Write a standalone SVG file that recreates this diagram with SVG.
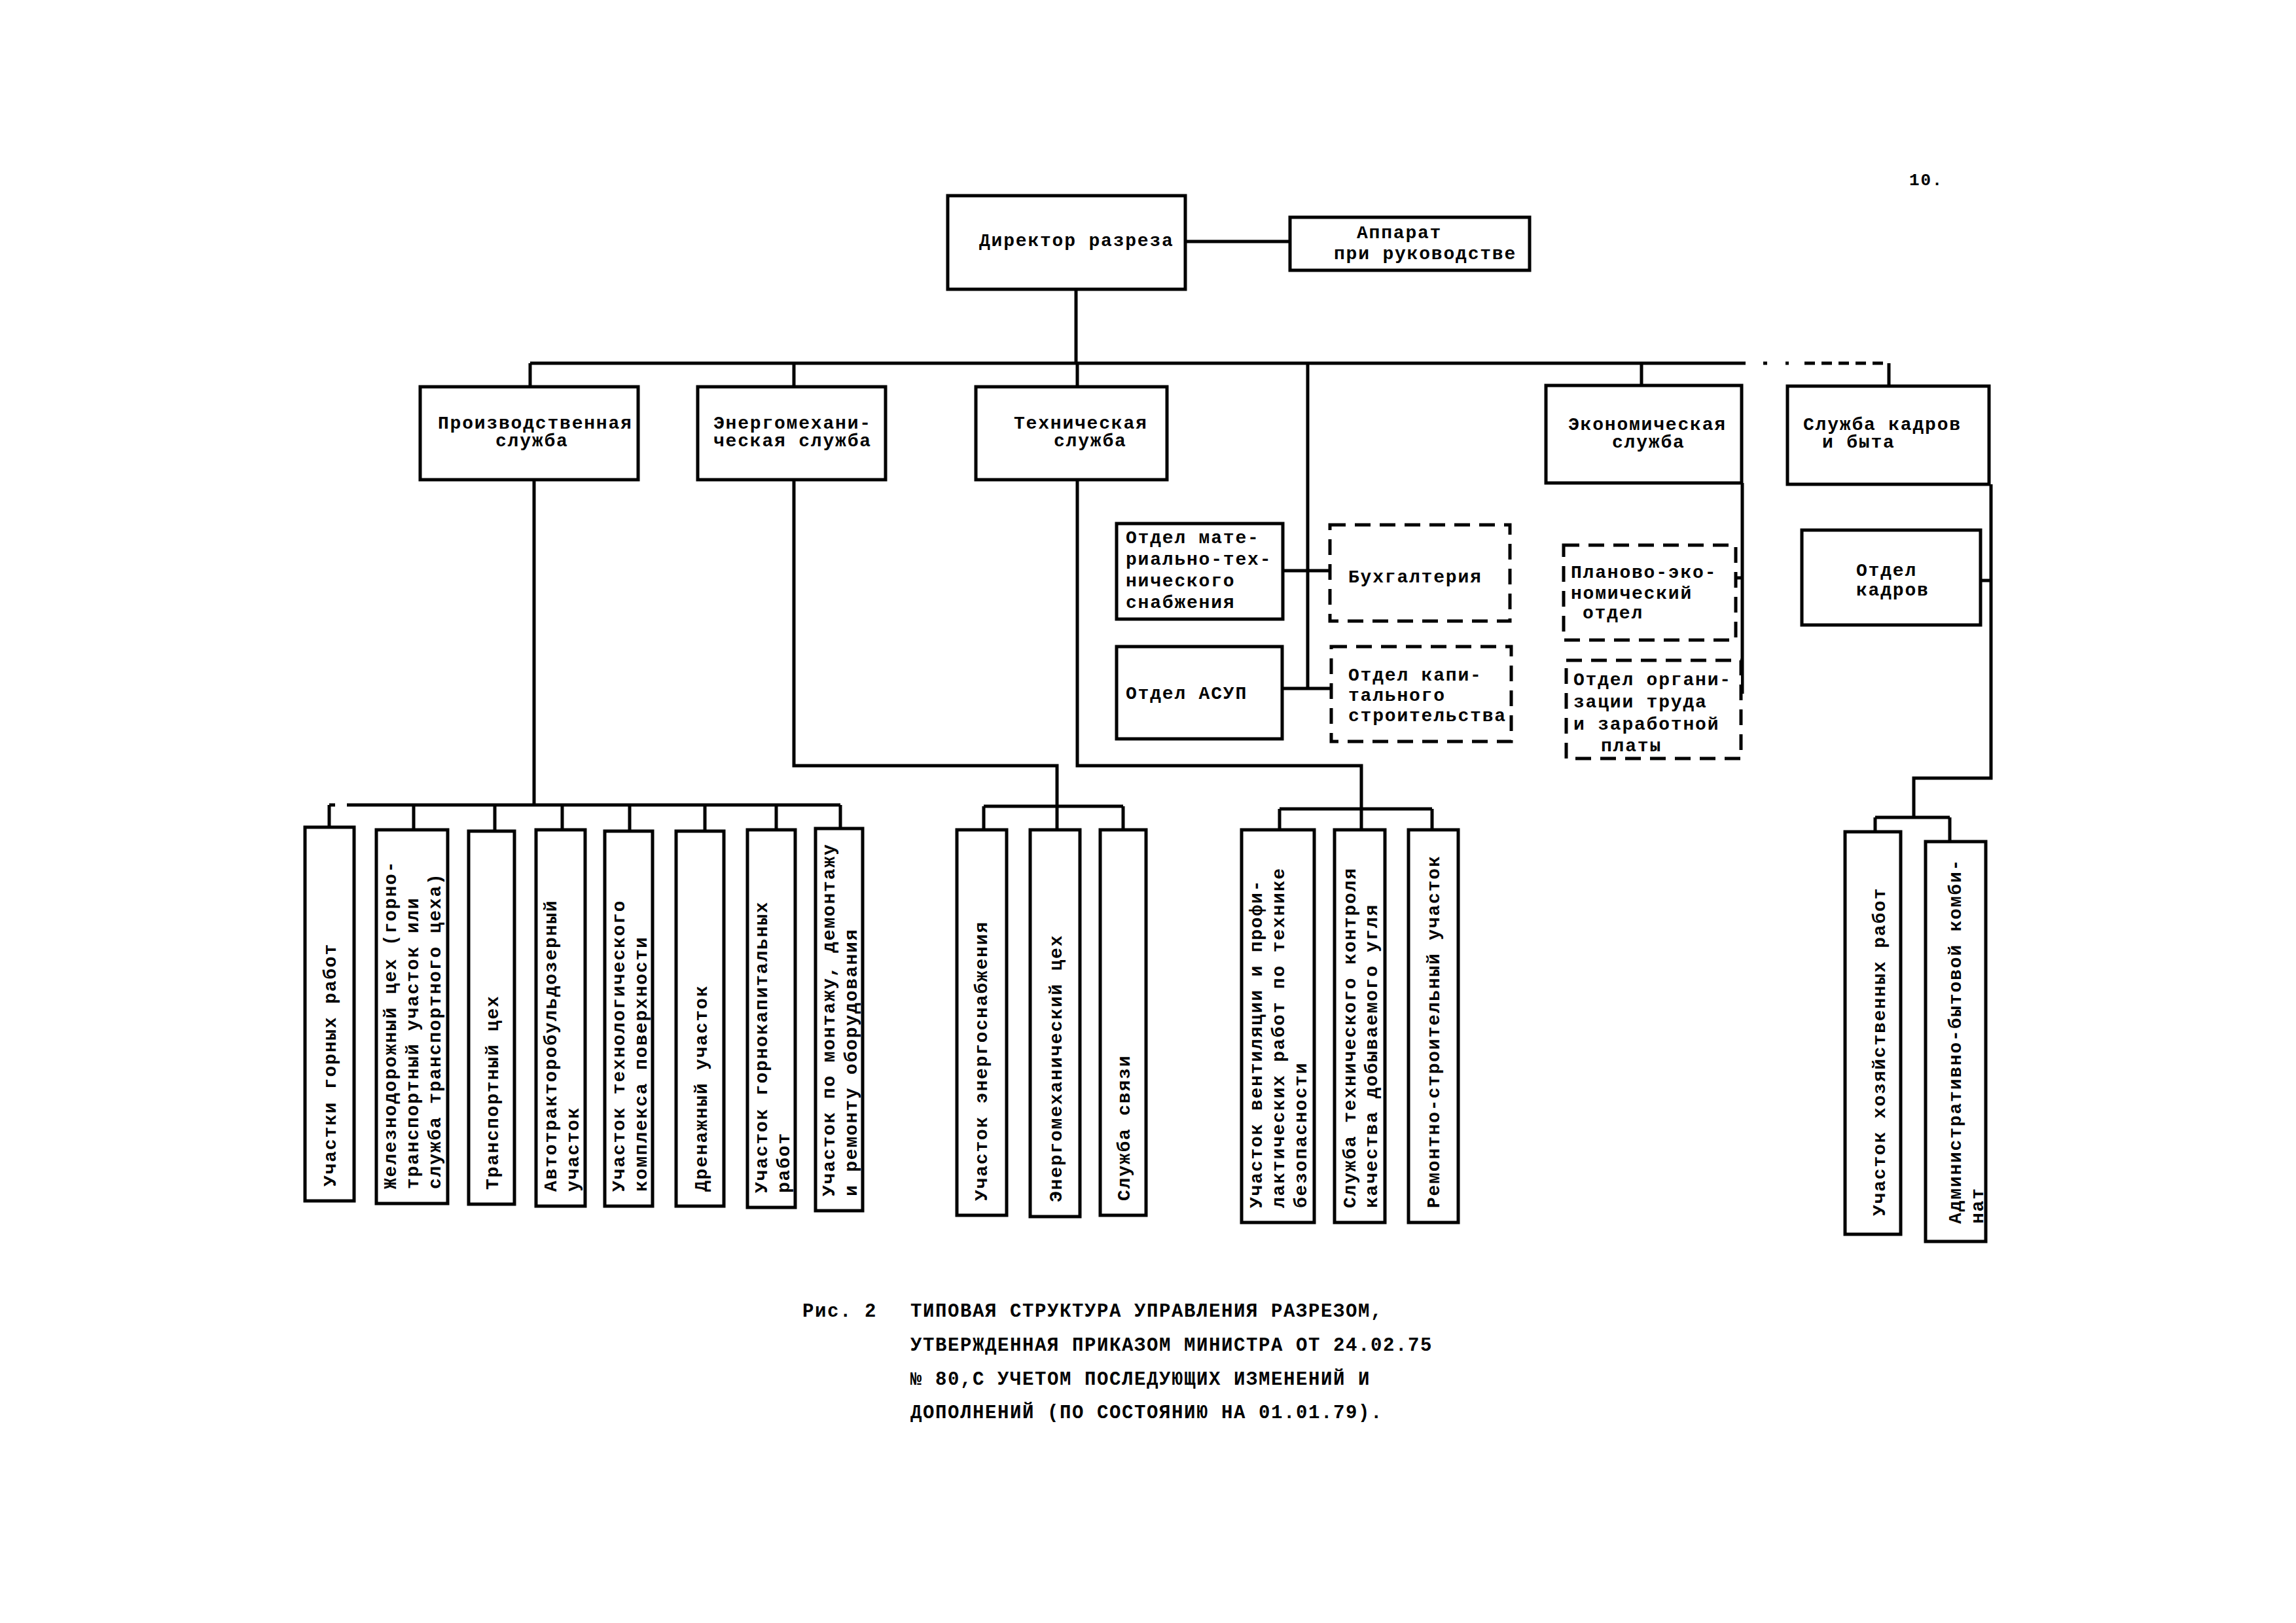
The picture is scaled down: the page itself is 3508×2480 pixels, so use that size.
<svg xmlns="http://www.w3.org/2000/svg" width="3508" height="2480" viewBox="0 0 3508 2480">
<style>
.box{fill:#fff;stroke:#000;stroke-width:5}
.dash{stroke-dasharray:24 14}
.c{fill:none;stroke:#000;stroke-width:5}
.t{font-family:"Liberation Mono","DejaVu Sans Mono",monospace;font-weight:bold;font-size:28px;letter-spacing:1.8px;fill:#000}
.cap{font-family:"Liberation Mono","DejaVu Sans Mono",monospace;font-weight:bold;font-size:29px;letter-spacing:1.6px;fill:#000}
</style>
<rect x="0" y="0" width="3508" height="2480" fill="#fff"/>
<text class="t" x="2917" y="283" style="font-size:26px">10.</text>

<g id="connectors">
<path class="c" d="M1811 369H1971"/>
<path class="c" d="M1644 442V555"/>
<path class="c" d="M810 555H2667"/>
<path class="c" d="M2694 555H2700M2728 555H2733M2757 555H2886" style="stroke-dasharray:16 10"/>
<path class="c" d="M810 555V591M1213 555V591M1646 555V591M2508 555V589M2886 555V590"/>
<path class="c" d="M1998 555V1052M1960 872H2032M1959 1052H2034"/>
<path class="c" d="M2662 738V1060M2652 883H2662M2660 1058H2662"/>
<path class="c" d="M3042 740V1189H2924V1249M2865 1249H2979M2865 1249V1271M2979 1249V1286M3026 887H3042"/>
<path class="c" d="M816 733V1230M503 1230H512M530 1230H1284"/>
<path class="c" d="M503 1230V1264M632 1230V1268M756 1230V1270M859 1230V1268M962 1230V1270M1077 1230V1270M1186 1230V1268M1284 1230V1266"/>
<path class="c" d="M1213 733V1170H1615V1268M1503 1232H1716M1503 1232V1268M1716 1232V1268"/>
<path class="c" d="M1646 733V1170H2080V1268M1955 1236H2188M1955 1236V1268M2188 1236V1268"/>
</g>

<g id="director">
<rect class="box" x="1448" y="299" width="363" height="143"/>
<text class="t" x="1496" y="376">Директор разреза</text>
</g>
<g id="apparat">
<rect class="box" x="1971" y="332" width="366" height="81"/>
<text class="t" x="2073" y="364">Аппарат</text>
<text class="t" x="2038" y="396">при руководстве</text>
</g>

<g id="prod">
<rect class="box" x="642" y="591" width="333" height="142"/>
<text class="t" x="669" y="655">Производственная</text>
<text class="t" x="757" y="682">служба</text>
</g>
<g id="energo">
<rect class="box" x="1066" y="591" width="287" height="142"/>
<text class="t" x="1090" y="655">Энергомехани-</text>
<text class="t" x="1090" y="682">ческая служба</text>
</g>
<g id="tech">
<rect class="box" x="1491" y="591" width="292" height="142"/>
<text class="t" x="1549" y="655">Техническая</text>
<text class="t" x="1610" y="682">служба</text>
</g>
<g id="econ">
<rect class="box" x="2362" y="589" width="299" height="149"/>
<text class="t" x="2396" y="657">Экономическая</text>
<text class="t" x="2463" y="684">служба</text>
</g>
<g id="kadry">
<rect class="box" x="2731" y="590" width="308" height="150"/>
<text class="t" x="2755" y="657">Служба кадров</text>
<text class="t" x="2784" y="684">и быта</text>
</g>

<g id="mts">
<rect class="box" x="1706" y="800" width="254" height="146"/>
<text class="t" x="1720" y="830">Отдел мате-</text>
<text class="t" x="1720" y="863">риально-тех-</text>
<text class="t" x="1720" y="896">нического</text>
<text class="t" x="1720" y="929">снабжения</text>
</g>
<g id="asup">
<rect class="box" x="1706" y="988" width="253" height="141"/>
<text class="t" x="1720" y="1068">Отдел АСУП</text>
</g>
<g id="buh">
<rect class="box dash" x="2032" y="802" width="275" height="147"/>
<text class="t" x="2060" y="890">Бухгалтерия</text>
</g>
<g id="kap">
<rect class="box dash" x="2034" y="988" width="275" height="145"/>
<text class="t" x="2060" y="1040">Отдел капи-</text>
<text class="t" x="2060" y="1071">тального</text>
<text class="t" x="2060" y="1102">строительства</text>
</g>
<g id="plan">
<rect class="box dash" x="2389" y="833" width="263" height="145"/>
<text class="t" x="2400" y="883">Планово-эко-</text>
<text class="t" x="2400" y="915">номический</text>
<text class="t" x="2418" y="945">отдел</text>
</g>
<g id="org">
<rect class="box dash" x="2393" y="1009" width="267" height="150"/>
<text class="t" x="2404" y="1047">Отдел органи-</text>
<text class="t" x="2404" y="1081">зации труда</text>
<text class="t" x="2404" y="1115">и заработной</text>
<text class="t" x="2446" y="1148">платы</text>
</g>
<g id="otdel-kadrov">
<rect class="box" x="2753" y="810" width="273" height="145"/>
<text class="t" x="2836" y="880">Отдел</text>
<text class="t" x="2836" y="910">кадров</text>
</g>

<g id="p1">
<rect class="box" x="466" y="1264" width="75" height="571"/>
<text class="t" x="513" y="1813" transform="rotate(-90 513 1813)">Участки горных работ</text>
</g>
<g id="p2">
<rect class="box" x="575" y="1268" width="109" height="571"/>
<text class="t" x="605" y="1817" transform="rotate(-90 605 1817)">Железнодорожный цех (горно-</text>
<text class="t" x="639" y="1817" transform="rotate(-90 639 1817)">транспортный участок или</text>
<text class="t" x="673" y="1817" transform="rotate(-90 673 1817)">служба транспортного цеха)</text>
</g>
<g id="p3">
<rect class="box" x="716" y="1270" width="70" height="570"/>
<text class="t" x="761" y="1818" transform="rotate(-90 761 1818)">Транспортный цех</text>
</g>
<g id="p4">
<rect class="box" x="819" y="1268" width="75" height="575"/>
<text class="t" x="850" y="1821" transform="rotate(-90 850 1821)">Автотракторобульдозерный</text>
<text class="t" x="884" y="1821" transform="rotate(-90 884 1821)">участок</text>
</g>
<g id="p5">
<rect class="box" x="924" y="1270" width="73" height="573"/>
<text class="t" x="954" y="1821" transform="rotate(-90 954 1821)">Участок технологического</text>
<text class="t" x="988" y="1821" transform="rotate(-90 988 1821)">комплекса поверхности</text>
</g>
<g id="p6">
<rect class="box" x="1033" y="1270" width="73" height="573"/>
<text class="t" x="1080" y="1821" transform="rotate(-90 1080 1821)">Дренажный участок</text>
</g>
<g id="p7">
<rect class="box" x="1142" y="1268" width="73" height="577"/>
<text class="t" x="1172" y="1823" transform="rotate(-90 1172 1823)">Участок горнокапитальных</text>
<text class="t" x="1206" y="1823" transform="rotate(-90 1206 1823)">работ</text>
</g>
<g id="p8">
<rect class="box" x="1246" y="1266" width="72" height="584"/>
<text class="t" x="1275" y="1828" transform="rotate(-90 1275 1828)">Участок по монтажу, демонтажу</text>
<text class="t" x="1309" y="1828" transform="rotate(-90 1309 1828)">и ремонту оборудования</text>
</g>

<g id="e1">
<rect class="box" x="1462" y="1268" width="76" height="589"/>
<text class="t" x="1508" y="1835" transform="rotate(-90 1508 1835)">Участок энергоснабжения</text>
</g>
<g id="e2">
<rect class="box" x="1574" y="1268" width="76" height="591"/>
<text class="t" x="1622" y="1837" transform="rotate(-90 1622 1837)">Энергомеханический цех</text>
</g>
<g id="e3">
<rect class="box" x="1681" y="1268" width="70" height="589"/>
<text class="t" x="1726" y="1835" transform="rotate(-90 1726 1835)">Служба связи</text>
</g>

<g id="t1">
<rect class="box" x="1897" y="1268" width="111" height="600"/>
<text class="t" x="1928" y="1846" transform="rotate(-90 1928 1846)">Участок вентиляции и профи-</text>
<text class="t" x="1962" y="1846" transform="rotate(-90 1962 1846)">лактических работ по технике</text>
<text class="t" x="1996" y="1846" transform="rotate(-90 1996 1846)">безопасности</text>
</g>
<g id="t2">
<rect class="box" x="2039" y="1268" width="77" height="600"/>
<text class="t" x="2071" y="1846" transform="rotate(-90 2071 1846)">Служба технического контроля</text>
<text class="t" x="2104" y="1846" transform="rotate(-90 2104 1846)">качества добываемого угля</text>
</g>
<g id="t3">
<rect class="box" x="2152" y="1268" width="76" height="600"/>
<text class="t" x="2199" y="1846" transform="rotate(-90 2199 1846)">Ремонтно-строительный участок</text>
</g>

<g id="k1">
<rect class="box" x="2819" y="1271" width="85" height="615"/>
<text class="t" x="2880" y="1858" transform="rotate(-90 2880 1858)">Участок хозяйственных работ</text>
</g>
<g id="k2">
<rect class="box" x="2942" y="1286" width="92" height="611"/>
<text class="t" x="2996" y="1870" transform="rotate(-90 2996 1870)">Административно-бытовой комби-</text>
<text class="t" x="3030" y="1870" transform="rotate(-90 3030 1870)">нат</text>
</g>

<g id="caption">
<text class="cap" x="1226" y="2012">Рис. 2</text>
<text class="cap" x="1391" y="2012">ТИПОВАЯ СТРУКТУРА УПРАВЛЕНИЯ РАЗРЕЗОМ,</text>
<text class="cap" x="1391" y="2064">УТВЕРЖДЕННАЯ ПРИКАЗОМ МИНИСТРА ОТ 24.02.75</text>
<text class="cap" x="1391" y="2116">№ 80,С УЧЕТОМ ПОСЛЕДУЮЩИХ ИЗМЕНЕНИЙ И</text>
<text class="cap" x="1391" y="2167">ДОПОЛНЕНИЙ (ПО СОСТОЯНИЮ НА 01.01.79).</text>
</g>
</svg>
